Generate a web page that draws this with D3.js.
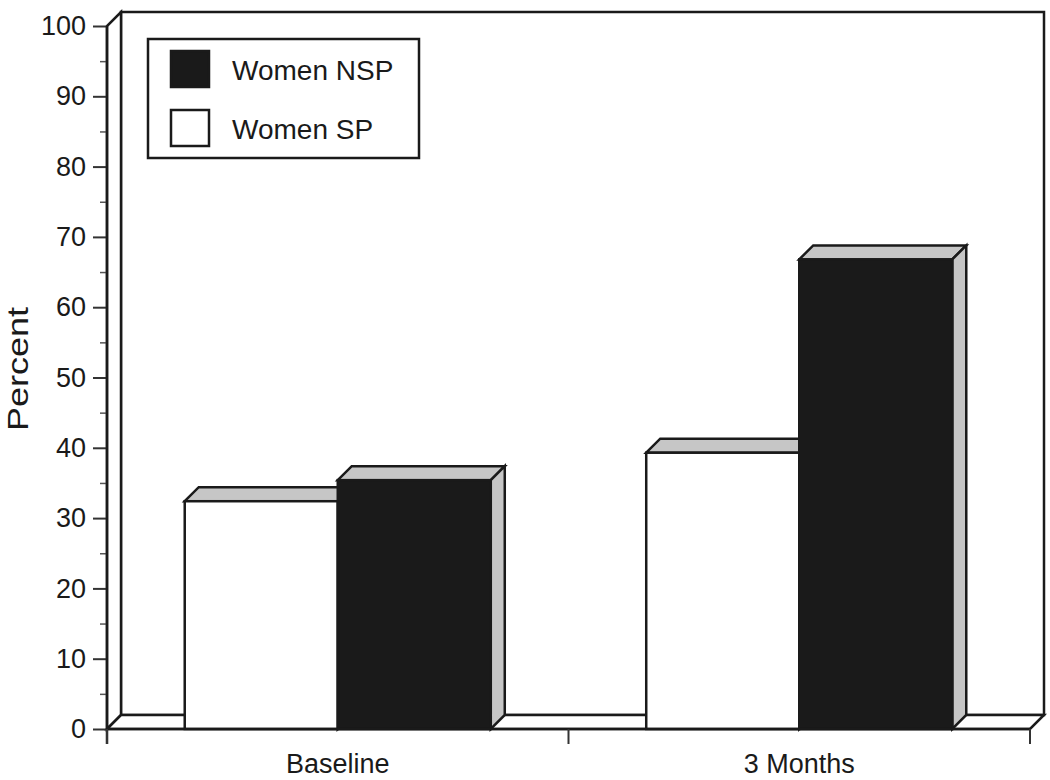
<!DOCTYPE html>
<html><head><meta charset="utf-8">
<script src="https://cdn.jsdelivr.net/npm/d3@7"></script>
<style>
body{margin:0;background:#fff}
svg{display:block}
text{font-family:"Liberation Sans",Arial,sans-serif;fill:#1a1a1a}
</style>
</head><body>
<svg id="c" width="1050" height="780"></svg>
<script>
const categories = ["Baseline", "3 Months"];
const seriesNames = ["Women SP", "Women NSP"];
const womenSP = [32.4, 39.3];
const womenNSP = [35.4, 66.8];
const legendOrder = ["Women NSP", "Women SP"];
const yTicks = [0, 10, 20, 30, 40, 50, 60, 70, 80, 90, 100];
const yMinorTicks = [5, 15, 25, 35, 45, 55, 65, 75, 85, 95];
const yLabel = "Percent";

const svg = d3.select("#c");
const ink = "#1a1a1a", gray = "#c6c6c6", sw = 2.5;
const D = 14;
const pLeft = 107, pRight = 1030, pTop = 26, pBottom = 729;

const y = d3.scaleLinear().domain([0, 100]).range([pBottom, pTop]);
const x = d3.scaleBand().domain(categories).range([pLeft, pRight]);
const inner = d3.scaleBand().domain(seriesNames).range([0, x.bandwidth()]).paddingInner(0).paddingOuter(0.508);
const fills = {"Women SP": "#ffffff", "Women NSP": ink};
const values = {"Women SP": womenSP, "Women NSP": womenNSP};

// back wall
svg.append("rect").attr("x", pLeft + D).attr("y", y(100) - D)
  .attr("width", pRight - pLeft).attr("height", y(0) - y(100))
  .attr("fill", "#fff").attr("stroke", ink).attr("stroke-width", sw);
// left wall
svg.append("polygon").attr("points", [[pLeft, y(0)], [pLeft, y(100)], [pLeft + D, y(100) - D], [pLeft + D, y(0) - D]].join(" "))
  .attr("fill", "#fff").attr("stroke", ink).attr("stroke-width", sw).attr("stroke-linejoin", "miter");
// floor
svg.append("polygon").attr("points", [[pLeft, y(0)], [pRight, y(0)], [pRight + D, y(0) - D], [pLeft + D, y(0) - D]].join(" "))
  .attr("fill", "#fff").attr("stroke", ink).attr("stroke-width", sw);

// bars
const bars = [];
categories.forEach((c, i) => seriesNames.forEach(s => bars.push({c, s, v: values[s][i]})));
const g = svg.append("g").attr("stroke", ink).attr("stroke-width", sw).attr("stroke-linejoin", "miter");
bars.forEach(b => {
  const x0 = x(b.c) + inner(b.s), w = inner.bandwidth();
  const yt = y(b.v), yb = y(0);
  g.append("polygon").attr("points", [[x0, yt], [x0 + D, yt - D], [x0 + w + D, yt - D], [x0 + w, yt]].join(" ")).attr("fill", gray);
  g.append("polygon").attr("points", [[x0 + w, yt], [x0 + w + D, yt - D], [x0 + w + D, yb - D], [x0 + w, yb]].join(" ")).attr("fill", gray);
  g.append("rect").attr("x", x0).attr("y", yt).attr("width", w).attr("height", yb - yt).attr("fill", fills[b.s]);
});

// y axis
const ya = svg.append("g").attr("transform", `translate(${pLeft},0)`)
  .call(d3.axisLeft(y).tickValues(yTicks).tickSize(14).tickPadding(7).tickFormat(d3.format("d")));
ya.select(".domain").remove();
ya.selectAll("line").attr("stroke", "#333").attr("stroke-width", 2);
ya.selectAll("text").attr("font-size", 27).attr("fill", ink).attr("font-family", '"Liberation Sans",Arial,sans-serif');
const ym = svg.append("g").attr("transform", `translate(${pLeft},0)`)
  .call(d3.axisLeft(y).tickValues(yMinorTicks).tickSize(7).tickFormat(""));
ym.select(".domain").remove();
ym.selectAll("line").attr("stroke", "#555").attr("stroke-width", 1.5);
svg.append("line").attr("x1", pLeft).attr("x2", pLeft).attr("y1", y(100)).attr("y2", y(0) + 15)
  .attr("stroke", ink).attr("stroke-width", sw);

// x axis
svg.append("line").attr("x1", pLeft).attr("x2", pRight).attr("y1", y(0)).attr("y2", y(0)).attr("stroke", ink).attr("stroke-width", sw);
const edges = categories.map(c => x(c)).concat([x(categories[categories.length - 1]) + x.bandwidth()]);
svg.selectAll(".xt").data(edges).join("line").attr("class", "xt")
  .attr("x1", d => d).attr("x2", d => d).attr("y1", y(0)).attr("y2", y(0) + 15)
  .attr("stroke", "#333").attr("stroke-width", 2);
svg.selectAll(".xl").data(categories).join("text").attr("class", "xl")
  .attr("x", d => x(d) + x.bandwidth() / 2).attr("y", 773)
  .attr("text-anchor", "middle").attr("font-size", 27).text(d => d);

// y label
svg.append("text").attr("transform", "translate(28,369) rotate(-90)")
  .attr("text-anchor", "middle").attr("font-size", 29)
  .attr("textLength", 124).attr("lengthAdjust", "spacingAndGlyphs").text(yLabel);

// legend
const lg = svg.append("g");
lg.append("rect").attr("x", 148).attr("y", 39).attr("width", 271).attr("height", 119)
  .attr("fill", "#fff").attr("stroke", ink).attr("stroke-width", 2.5);
legendOrder.forEach((s, i) => {
  lg.append("rect").attr("x", 171).attr("y", 51 + i * 59).attr("width", 38).attr("height", 36)
    .attr("fill", fills[s]).attr("stroke", ink).attr("stroke-width", 2.5);
  lg.append("text").attr("x", 232).attr("y", 80 + i * 59).attr("font-size", 28).text(s);
});
</script>
</body></html>
